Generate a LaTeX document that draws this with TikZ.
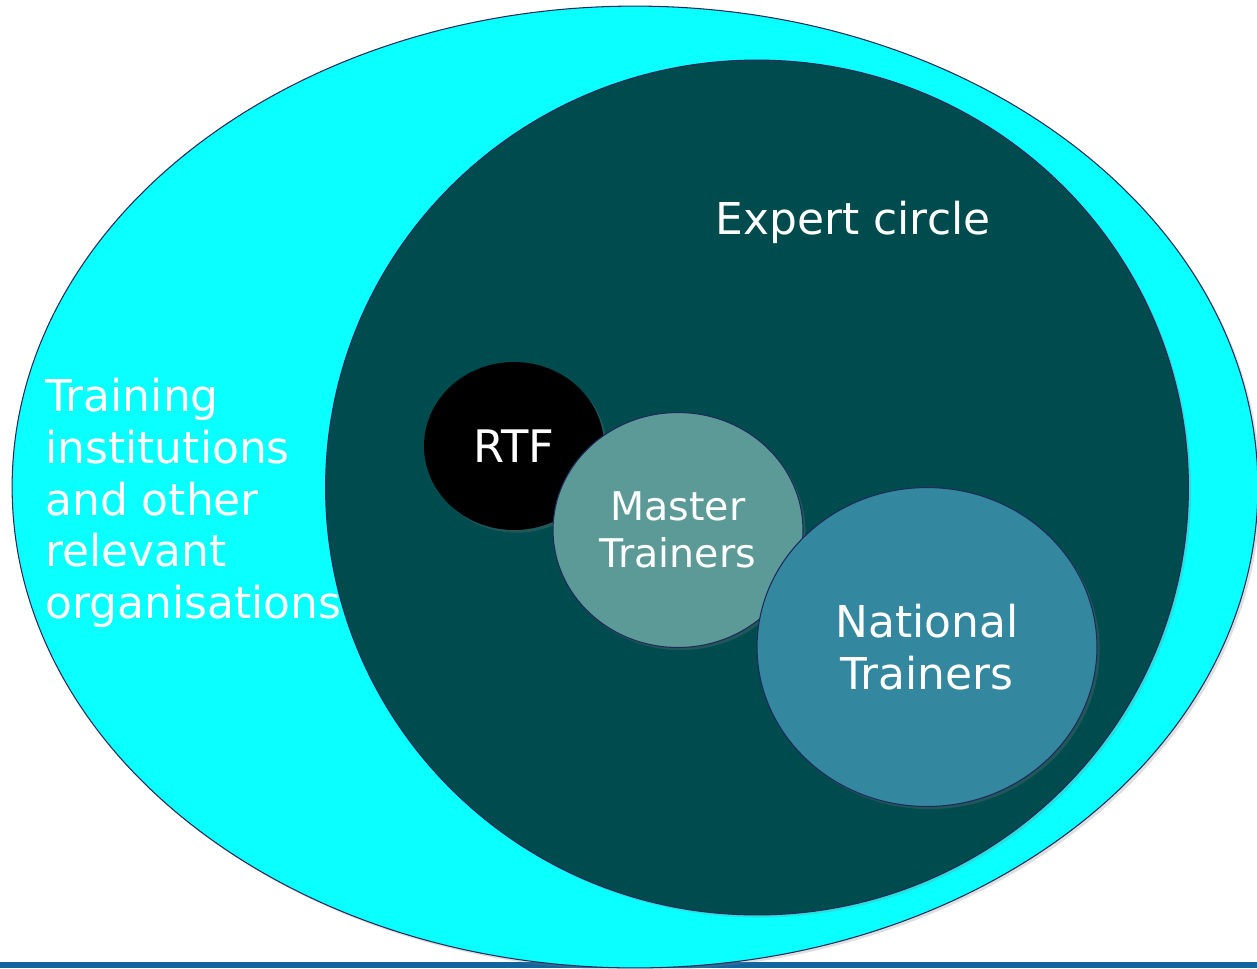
\documentclass[tikz,border=0pt]{standalone}
\usepackage{fontspec}
\setmainfont{DejaVu Sans}
\usetikzlibrary{shapes.geometric,shadows}
\definecolor{circle edge}{RGB}{31,42,90}
\definecolor{partner area}{RGB}{10,255,255}
\definecolor{expert area}{RGB}{0,75,78}
\definecolor{master area}{RGB}{92,154,152}
\definecolor{national area}{RGB}{51,135,159}
\definecolor{footer bar}{RGB}{19,101,160}
\tikzset{blob/.style={ellipse, draw=circle edge, line width=0.6pt, inner sep=0pt,
      text=white, align=center,
      drop shadow={opacity=0.25, shadow xshift=1.5pt, shadow yshift=-1.5pt}},
    label text/.style={text=white, inner sep=0pt, font=\fontsize{25}{29.5}\selectfont}}

\begin{document}
\begin{tikzpicture}[x=0.02cm, y=-0.02cm]
    \useasboundingbox (0,0) rectangle (1257,968);
    \fill[footer bar] (0,962) rectangle (1257,968);
    % nested circles
    \node[blob, fill=partner area, minimum width=24.92cm, minimum height=19.24cm]
      (partners) at (635,487) {};
    \node[blob, fill=expert area, minimum width=17.26cm, minimum height=17.1cm]
      (expert) at (757,487.5) {};
    \node[blob, fill=black, draw=none, minimum width=3.6cm, minimum height=3.36cm,
      font=\fontsize{25.5}{30}\selectfont] (rtf) at (514,446) {RTF};
    \node[blob, fill=master area, minimum width=5cm, minimum height=4.7cm,
      font=\fontsize{22.5}{26.7}\selectfont] (master) at (678,530) {Master\\Trainers};
    \node[blob, fill=national area, minimum width=6.8cm, minimum height=6.38cm,
      font=\fontsize{25}{30}\selectfont] (national) at (927,647) {National\\Trainers};
    % labels
    \node[label text, anchor=base] (expertlabel) at (853,234) {Expert circle};
    \node[label text, anchor=west, align=left] (partnerlabel) at (45,503)
      {Training\\institutions\\and other\\relevant\\organisations};
\end{tikzpicture}
\end{document}
